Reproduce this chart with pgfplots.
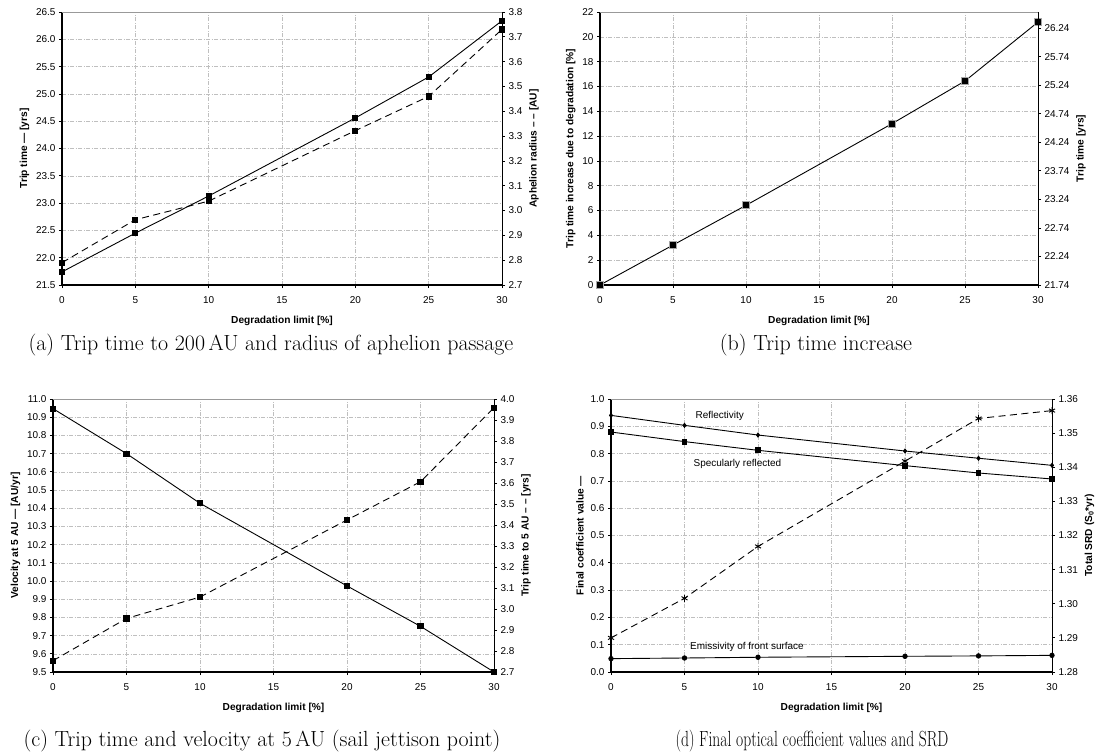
\documentclass[border=0pt]{standalone}
\usepackage{fontspec}
\newfontfamily\arial{Liberation Sans}
\usepackage{pgfplots}
\pgfplotsset{compat=1.18}

\pgfplotsset{
 mybase/.style={
  scale only axis,
  xmin=0, xmax=30,
  xtick={0,5,10,15,20,25,30},
  ticklabel style={font=\arial\fontsize{10}{12}\selectfont},
  xticklabel style={yshift=-5bp},
  label style={font=\arial\bfseries\fontsize{10.2}{12}\selectfont},
  /pgf/number format/assume math mode=true,
  tick align=outside,
  major tick length=3bp,
  tick style={black, line width=0.8bp},
 },
 leftax/.style={mybase,
  axis x line*=bottom, axis y line*=left,
  axis line style={line width=1.6bp, black},
  grid=major,
  major grid style={gray!50, line width=0.5bp, dash pattern=on 4bp off 1.5bp on 1bp off 1.5bp},
  xlabel={Degradation limit [\%]},
  xlabel style={at={(axis description cs:0.5,0)}, anchor=center, yshift=-36bp},
  extra description/.code={\draw[gray!80, line width=0.6bp] (rel axis cs:0,1) -- (rel axis cs:1,1);},
 },
 rightax/.style={mybase,
  axis x line=none, axis y line*=right,
  axis line style={line width=1bp, black},
 },
 solidl/.style={black, line width=0.9bp, mark=square*, mark size=2.6bp, mark options={solid}},
 dashl/.style={black, line width=0.9bp, dash pattern=on 7bp off 4.5bp, mark=square*, mark size=2.6bp, mark options={solid}},
}

\begin{document}
\begin{tikzpicture}
\path[use as bounding box] (0,0) rectangle (1099bp,-755bp);

% ---------------- (a)
\begin{axis}[leftax, at={(62bp,-285bp)}, anchor=south west, width=440bp, height=273bp,
  ymin=21.5, ymax=26.5,
  ytick={21.5,22.0,22.5,23.0,23.5,24.0,24.5,25.0,25.5,26.0,26.5},
  yticklabel style={/pgf/number format/.cd, fixed, fixed zerofill, precision=1},
  ylabel={Trip time \textemdash{} [yrs]}]
\addplot[solidl] coordinates {(0,21.74) (5,22.45) (10,23.13) (20,24.56) (25,25.31) (30,26.34)};
\end{axis}
\begin{axis}[rightax, at={(62bp,-285bp)}, anchor=south west, width=440bp, height=273bp,
  ymin=2.7, ymax=3.8,
  ytick={2.7,2.8,2.9,3.0,3.1,3.2,3.3,3.4,3.5,3.6,3.7,3.8},
  yticklabel style={/pgf/number format/.cd, fixed, fixed zerofill, precision=1},
  ylabel={Aphelion radius \textendash{} \textendash{} [AU]}]
\addplot[dashl] coordinates {(0,2.79) (5,2.963) (10,3.038) (20,3.322) (25,3.46) (30,3.73)};
\end{axis}

% ---------------- (b)
\begin{axis}[leftax, at={(600bp,-285bp)}, anchor=south west, width=438bp, height=273bp,
  ymin=0, ymax=22,
  ytick={0,2,4,6,8,10,12,14,16,18,20,22},
  ylabel={Trip time increase due to degradation [\%]}]
\addplot[black, line width=0.9bp, mark=square*, mark size=3.5bp, mark options={fill=black, draw=gray!70, line width=1.3bp}] coordinates {(0,0) (5,3.22) (10,6.42) (20,13.0) (25,16.44) (30,21.19)};
\end{axis}
\begin{axis}[rightax, at={(600bp,-285bp)}, anchor=south west, width=438bp, height=273bp,
  ymin=21.74, ymax=26.5228,
  ytick={21.74,22.24,22.74,23.24,23.74,24.24,24.74,25.24,25.74,26.24},
  yticklabel style={/pgf/number format/.cd, fixed, fixed zerofill, precision=2},
  ylabel={Trip time [yrs]}]
\end{axis}

% ---------------- (c)
\begin{axis}[leftax, at={(53bp,-672bp)}, anchor=south west, width=441bp, height=273bp,
  ymin=9.5, ymax=11.0,
  ytick={9.5,9.6,9.7,9.8,9.9,10.0,10.1,10.2,10.3,10.4,10.5,10.6,10.7,10.8,10.9,11.0},
  yticklabel style={/pgf/number format/.cd, fixed, fixed zerofill, precision=1},
  ylabel={Velocity at 5 AU \textemdash{} [AU/yr]}]
\addplot[solidl] coordinates {(0,10.947) (5,10.70) (10,10.427) (20,9.973) (25,9.751) (30,9.5)};
\end{axis}
\begin{axis}[rightax, at={(53bp,-672bp)}, anchor=south west, width=441bp, height=273bp,
  ymin=2.7, ymax=4.0,
  ytick={2.7,2.8,2.9,3.0,3.1,3.2,3.3,3.4,3.5,3.6,3.7,3.8,3.9,4.0},
  yticklabel style={/pgf/number format/.cd, fixed, fixed zerofill, precision=1},
  ylabel={Trip time to 5 AU \textendash{} \textendash{} [yrs]}]
\addplot[dashl] coordinates {(0,2.754) (5,2.955) (10,3.057) (20,3.424) (25,3.606) (30,3.959)};
\end{axis}

% ---------------- (d)
\begin{axis}[leftax, at={(611bp,-672bp)}, anchor=south west, width=441bp, height=273bp,
  ymin=0, ymax=1.0,
  ytick={0,0.1,0.2,0.3,0.4,0.5,0.6,0.7,0.8,0.9,1.0},
  yticklabel style={/pgf/number format/.cd, fixed, fixed zerofill, precision=1},
  ylabel={Final coefficient value \textemdash}]
\addplot[black, line width=0.9bp, mark=diamond*, mark size=2bp] coordinates {(0,0.940) (5,0.9035) (10,0.868) (20,0.8095) (25,0.783) (30,0.757)};
\addplot[black, line width=0.9bp, mark=square*, mark size=2.4bp] coordinates {(0,0.879) (5,0.844) (10,0.812) (20,0.756) (25,0.729) (30,0.707)};
\addplot[black, line width=0.9bp, mark=*, mark size=2.2bp] coordinates {(0,0.049) (5,0.0513) (10,0.054) (20,0.0575) (25,0.059) (30,0.061)};
\node[font=\arial\fontsize{10}{12}\selectfont] at (axis cs:7.4,0.938) {Reflectivity};
\node[font=\arial\fontsize{10}{12}\selectfont] at (axis cs:8.6,0.762) {Specularly reflected};
\node[font=\arial\fontsize{10}{12}\selectfont] at (axis cs:9.25,0.092) {Emissivity of front surface};
\end{axis}
\begin{axis}[rightax, at={(611bp,-672bp)}, anchor=south west, width=441bp, height=273bp,
  ymin=1.28, ymax=1.36,
  ytick={1.28,1.29,1.30,1.31,1.32,1.33,1.34,1.35,1.36},
  yticklabel style={/pgf/number format/.cd, fixed, fixed zerofill, precision=2},
  ylabel={Total SRD (S\textsubscript{0}*yr)}]
\addplot[black, line width=0.9bp, dash pattern=on 7bp off 4.5bp, mark=asterisk, mark size=3.5bp, mark options={solid}] coordinates {(0,1.290) (5,1.3016) (10,1.3168) (20,1.3418) (25,1.3543) (30,1.3566)};
\end{axis}

% captions
\node[font=\fontsize{22}{26}\selectfont] at (271bp,-345bp) {(a) Trip time to 200\,AU and radius of aphelion passage};
\node[font=\fontsize{22}{26}\selectfont] at (816bp,-345bp) {(b) Trip time increase};
\node[font=\fontsize{22}{26}\selectfont] at (262bp,-741bp) {(c) Trip time and velocity at 5\,AU (sail jettison point)};
\node[font=\fontsize{22}{26}\selectfont, xscale=0.71] at (812bp,-741bp) {(d) Final optical coefficient values and SRD};
\end{tikzpicture}
\end{document}
